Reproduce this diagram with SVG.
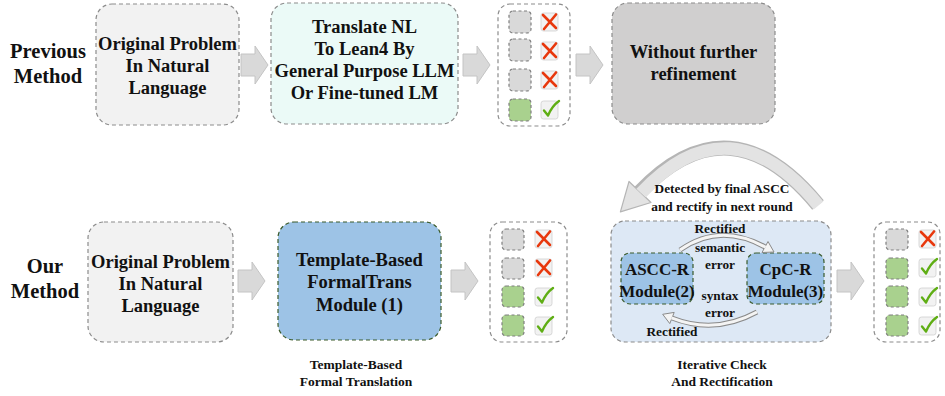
<svg xmlns="http://www.w3.org/2000/svg" xmlns:xlink="http://www.w3.org/1999/xlink" width="945" height="396" viewBox="0 0 945 396">
<style>
text{font-family:"Liberation Serif","Times New Roman",serif;font-weight:bold;fill:#111;text-anchor:middle}
.lbl{font-size:20.5px}
.t16{font-size:18.5px}
.mod{font-size:17px}
.cap{font-size:13.5px}
.sm{font-size:13.3px}
.box{stroke:#8c8c8c;stroke-width:1.2;stroke-dasharray:4 3}
.gbox{stroke:#3a5a2a;stroke-width:1.2;stroke-dasharray:4 3}
.sq{stroke:#7f7f7f;stroke-width:1.2;stroke-dasharray:3 2.5}
.gray{fill:#d9d9d9}
.green{fill:#a9d18e}
.barrow{fill:#d9d9d9;stroke:#c4c4c4;stroke-width:1}
</style>
<defs>
<g id="xm">
<rect x="0" y="0" width="17" height="18" rx="2.5" fill="#f2f2f2" stroke="#cfcfcf" stroke-width="0.8"/>
<path d="M2 2 L15 15 M15 1.5 L3 16" stroke="#e8380d" stroke-width="2.6" stroke-linecap="round" fill="none"/>
</g>
<g id="ck">
<rect x="0" y="0" width="17" height="18" rx="2.5" fill="#f2f2f2" stroke="#cfcfcf" stroke-width="0.8"/>
<path d="M3 9.5 L7 14.5 Q11 5 18 0" stroke="#5fae14" stroke-width="2.4" stroke-linecap="round" stroke-linejoin="round" fill="none"/>
</g>
<path id="ba" d="M0 -11 L14 -11 L14 -19 L27 0 L14 19 L14 11 L0 11 Z"/>
</defs>

<!-- row labels -->
<g id="lbl-prev"><text class="lbl" x="48" y="58">Previous</text><text class="lbl" x="48" y="83">Method</text></g>
<g id="lbl-our"><text class="lbl" x="45" y="273">Our</text><text class="lbl" x="45" y="298">Method</text></g>

<!-- Top row -->
<g id="p-orig"><rect class="box" x="96" y="4" width="143" height="121" rx="16" fill="#f2f2f2"/>
<text class="t16" x="167.5" y="50">Original Problem</text><text class="t16" x="167.5" y="72">In Natural</text><text class="t16" x="167.5" y="94">Language</text></g>
<g id="p-trans"><rect class="box" x="271" y="3" width="187" height="121" rx="16" fill="#ebfaf7"/>
<text class="t16" x="364.5" y="33">Translate NL</text><text class="t16" x="364.5" y="55">To Lean4 By</text><text class="t16" x="364.5" y="77">General Purpose LLM</text><text class="t16" x="364.5" y="99">Or Fine-tuned LM</text></g>
<g id="p-check"><rect class="box" x="498" y="4" width="72" height="122" rx="12" fill="#fff"/>
<rect class="sq gray" x="509" y="11" width="22" height="22" rx="4"/><use xlink:href="#xm" x="541" y="13"/>
<rect class="sq gray" x="509" y="39" width="22" height="22" rx="4"/><use xlink:href="#xm" x="541" y="42"/>
<rect class="sq gray" x="509" y="69" width="22" height="22" rx="4"/><use xlink:href="#xm" x="541" y="71"/>
<rect class="sq green" x="509" y="99" width="22" height="22" rx="4"/><use xlink:href="#ck" x="541" y="101"/></g>
<g id="p-without"><rect class="box" x="612" y="3" width="163" height="121" rx="16" fill="#d0cfcf"/>
<text class="t16" x="693.5" y="58">Without further</text><text class="t16" x="693.5" y="80">refinement</text></g>

<!-- Bottom row -->
<g id="o-orig"><rect class="box" x="88" y="222" width="145" height="120" rx="16" fill="#f2f2f2"/>
<text class="t16" x="160.5" y="268">Original Problem</text><text class="t16" x="160.5" y="290">In Natural</text><text class="t16" x="160.5" y="312">Language</text></g>
<g id="o-formal"><rect class="gbox" x="278" y="222" width="163" height="118" rx="16" fill="#9dc3e6"/>
<text class="t16" x="359.5" y="266">Template-Based</text><text class="t16" x="359.5" y="288">FormalTrans</text><text class="t16" x="359.5" y="311">Module (1)</text>
<text class="cap" x="356" y="369">Template-Based</text><text class="cap" x="356" y="386">Formal Translation</text></g>
<g id="o-check1"><rect class="box" x="490" y="222" width="77" height="120" rx="12" fill="#fff"/>
<rect class="sq gray" x="502" y="229" width="22" height="21" rx="4"/><use xlink:href="#xm" x="535" y="230"/>
<rect class="sq gray" x="502" y="258" width="22" height="21" rx="4"/><use xlink:href="#xm" x="535" y="259"/>
<rect class="sq green" x="502" y="286" width="22" height="21" rx="4"/><use xlink:href="#ck" x="535" y="288"/>
<rect class="sq green" x="502" y="315" width="22" height="21" rx="4"/><use xlink:href="#ck" x="535" y="317"/></g>
<g id="o-iter"><rect class="box" x="611" y="221" width="220" height="121" rx="14" fill="#dde8f5"/>
<text class="cap" x="722" y="369">Iterative Check</text><text class="cap" x="722" y="386">And Rectification</text></g>
<g id="o-ascc"><rect class="gbox" x="621" y="253" width="72" height="51" rx="9" fill="#9dc3e6"/>
<text class="mod" x="657" y="275">ASCC-R</text><text class="mod" x="657" y="297">Module(2)</text></g>
<g id="o-cpc"><rect class="gbox" x="747" y="253" width="77" height="51" rx="9" fill="#9dc3e6"/>
<text class="mod" x="785.5" y="275">CpC-R</text><text class="mod" x="785.5" y="297">Module(3)</text></g>
<g id="o-check2"><rect class="box" x="874" y="222" width="66" height="120" rx="12" fill="#fff"/>
<rect class="sq gray" x="886" y="229" width="22" height="21" rx="4"/><use xlink:href="#xm" x="919" y="230"/>
<rect class="sq green" x="886" y="258" width="22" height="21" rx="4"/><use xlink:href="#ck" x="919" y="259"/>
<rect class="sq green" x="886" y="286" width="22" height="21" rx="4"/><use xlink:href="#ck" x="919" y="288"/>
<rect class="sq green" x="886" y="315" width="22" height="21" rx="4"/><use xlink:href="#ck" x="919" y="317"/></g>

<!-- connectors -->
<g id="connectors">
<use xlink:href="#ba" class="barrow" x="241" y="65"/>
<use xlink:href="#ba" class="barrow" x="463" y="65"/>
<use xlink:href="#ba" class="barrow" x="576" y="65"/>
<use xlink:href="#ba" class="barrow" x="238" y="281"/>
<use xlink:href="#ba" class="barrow" x="451" y="281"/>
<use xlink:href="#ba" class="barrow" x="837" y="281"/>
<!-- big loop arrow -->
<path d="M818 205 Q730 98 640 192" fill="none" stroke="#b5b5b5" stroke-width="15"/>
<polygon points="620.4,211.9 651,202.5 629,181.5" fill="#e3e3e3" stroke="#b5b5b5" stroke-width="1.2" stroke-linejoin="round"/>
<path d="M818.5 205.5 Q730 98 641 193" fill="none" stroke="#e3e3e3" stroke-width="12.6"/>
<!-- small arrows -->
<path d="M680 250 Q720 222 765 247" fill="none" stroke="#8a8a8a" stroke-width="5"/>
<polygon points="774,252 762,252.5 768,241.5" fill="#f4f4f4" stroke="#8a8a8a" stroke-width="1"/>
<path d="M680 250 Q720 222 765.5 247.3" fill="none" stroke="#f4f4f4" stroke-width="3"/>
<path d="M757 312 Q715 335 672 318" fill="none" stroke="#8a8a8a" stroke-width="5"/>
<polygon points="662.7,314.3 674.2,312.4 669.8,323.6" fill="#f4f4f4" stroke="#8a8a8a" stroke-width="1"/>
<path d="M757 312 Q715 335 671.5 317.8" fill="none" stroke="#f4f4f4" stroke-width="3"/>
<text class="sm" x="722" y="193">Detected by final ASCC</text>
<text class="sm" x="722" y="211">and rectify in next round</text>
<text class="sm" x="720" y="233">Rectified</text>
<text class="sm" x="720" y="252">semantic</text>
<text class="sm" x="720" y="269">error</text>
<text class="sm" x="720" y="300">syntax</text>
<text class="sm" x="720" y="317">error</text>
<text class="sm" x="672" y="336">Rectified</text>
</g>
</svg>
